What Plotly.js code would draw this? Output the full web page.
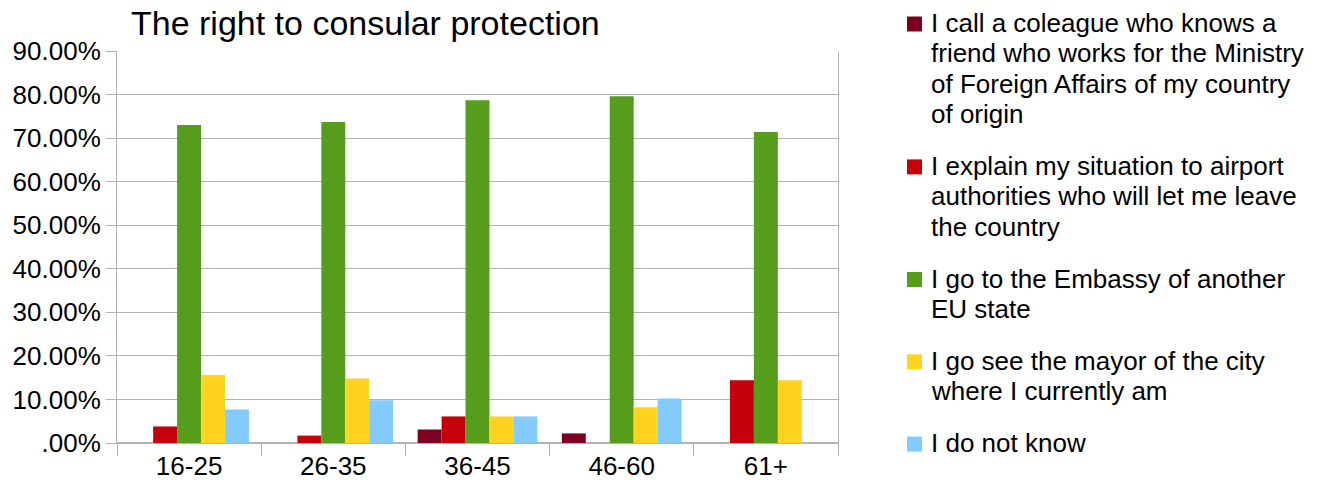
<!DOCTYPE html>
<html>
<head>
<meta charset="utf-8">
<script src="https://cdn.plot.ly/plotly-3.0.1.min.js"></script>
<style>html,body{margin:0;padding:0;background:#fff;}#chart{width:1325px;height:493px;}</style>
</head>
<body>
<div id="chart"></div>
<script>
// ---- data ----
const categories = ["16-25", "26-35", "36-45", "46-60", "61+"];
const seriesNames = [
  ["I call a coleague who knows a", "friend who works for the Ministry", "of Foreign Affairs of my country", "of origin"],
  ["I explain my situation to airport", "authorities who will let me leave", "the country"],
  ["I go to the Embassy of another", "EU state"],
  ["I go see the mayor of the city", "where I currently am"],
  ["I do not know"]
];
const callColleague = [0, 0, 3.1, 2.2, 0];
const explainAirport = [3.8, 1.7, 6.1, 0, 14.4];
const embassyEU = [73.0, 73.7, 78.7, 79.6, 71.4];
const seeMayor = [15.6, 14.8, 6.1, 8.2, 14.4];
const doNotKnow = [7.7, 9.8, 6.1, 10.2, 0];
const seriesValues = [callColleague, explainAirport, embassyEU, seeMayor, doNotKnow];
const seriesColors = ["#7E0021", "#C5000B", "#579D1C", "#FFD320", "#83CAFF"];
const yTickVals = [0, 10, 20, 30, 40, 50, 60, 70, 80, 90];
const yTickText = [".00%", "10.00%", "20.00%", "30.00%", "40.00%", "50.00%", "60.00%", "70.00%", "80.00%", "90.00%"];
const titleText = "The right to consular protection";

// ---- layout constants ----
const W = 1325, H = 493;
const M = {l: 117, r: 487, t: 51, b: 50};
const plotW = W - M.l - M.r, plotH = H - M.t - M.b;
const FONT = "'Liberation Sans', Arial, sans-serif";
const grid = "#b3b3b3";

const traces = seriesValues.map((vals, i) => ({
  type: "bar",
  x: categories,
  y: vals,
  name: seriesNames[i].join(" "),
  marker: {color: seriesColors[i], line: {width: 0}},
  hoverinfo: "x+y+name"
}));

// manual legend (line spacing matches reference)
const annotations = [];
const shapes = [];
const px2x = px => (px - M.l) / plotW;
const px2y = py => (H - M.b - py) / plotH;
let yLine = 22;
seriesNames.forEach((lines, i) => {
  shapes.push({
    type: "rect", xref: "paper", yref: "paper",
    x0: px2x(907), x1: px2x(922), y0: px2y(yLine + 9.5), y1: px2y(yLine - 5.5),
    fillcolor: seriesColors[i], line: {width: 0}
  });
  lines.forEach((ln, j) => {
    annotations.push({
      xref: "paper", yref: "paper", x: px2x(929), y: px2y(yLine + 1),
      xanchor: "left", yanchor: "middle", showarrow: false,
      text: ln, font: {family: FONT, size: 26, color: "#000"}
    });
    if (j < lines.length - 1) yLine += 30.3;
  });
  yLine += 52;
});

const layout = {
  width: W, height: H,
  margin: M,
  paper_bgcolor: "#fff", plot_bgcolor: "#fff",
  showlegend: false,
  barmode: "group",
  bargap: 0.17,
  bargroupgap: 0,
  font: {family: FONT, size: 26, color: "#000"},
  title: {
    text: titleText,
    x: 131 / W, xanchor: "left", xref: "container",
    y: 1 - 23 / H, yanchor: "middle", yref: "container",
    font: {family: FONT, size: 34, color: "#000"}
  },
  xaxis: {
    type: "category",
    tickson: "boundaries",
    ticks: "outside", ticklen: 12, tickcolor: grid, tickwidth: 1,
    showline: true, linecolor: grid, linewidth: 1,
    showgrid: false,
    tickfont: {family: FONT, size: 26, color: "#000"},
    fixedrange: true
  },
  yaxis: {
    range: [0, 90],
    tickvals: yTickVals, ticktext: yTickText,
    ticks: "outside", ticklen: 10, tickcolor: grid, tickwidth: 1,
    showline: true, linecolor: grid, linewidth: 1, mirror: true,
    showgrid: true, gridcolor: grid, gridwidth: 1,
    zeroline: true, zerolinecolor: grid, zerolinewidth: 2,
    tickfont: {family: FONT, size: 26, color: "#000"},
    fixedrange: true
  },
  annotations: annotations,
  shapes: shapes
};

Plotly.newPlot("chart", traces, layout, {displayModeBar: false, staticPlot: true});
</script>
</body>
</html>
